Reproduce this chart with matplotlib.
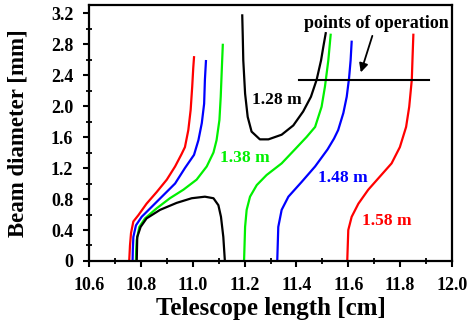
import numpy as np
import matplotlib.pyplot as plt
from matplotlib.ticker import MultipleLocator, FuncFormatter

plt.rcParams['font.family'] = ['Liberation Serif', 'DejaVu Serif']
plt.rcParams['font.weight'] = 'bold'

# telescope length [cm] vs beam diameter [mm]
red_left_x = [10.755, 10.758, 10.762, 10.771, 10.790, 10.822, 10.861, 10.900, 10.932, 10.957,
              10.970, 10.983, 10.992, 10.998, 11.002, 11.005]
red_left_y = [0, 0.20, 0.36, 0.51, 0.59, 0.74, 0.89, 1.05, 1.22, 1.38,
              1.47, 1.69, 1.95, 2.25, 2.49, 2.63]
blue_left_x = [10.768, 10.769, 10.771, 10.781, 10.803, 10.842, 10.887, 10.932, 10.970, 11.005,
               11.022, 11.035, 11.044, 11.047, 11.051]
blue_left_y = [0, 0.15, 0.31, 0.46, 0.57, 0.70, 0.85, 1.00, 1.20, 1.37,
               1.56, 1.78, 2.03, 2.34, 2.58]
green_left_x = [10.781, 10.782, 10.784, 10.794, 10.816, 10.861, 10.912, 10.964, 11.015, 11.054,
                11.080, 11.092, 11.103, 11.108, 11.112, 11.116]
green_left_y = [0, 0.15, 0.27, 0.44, 0.55, 0.68, 0.81, 0.92, 1.05, 1.22,
                1.40, 1.56, 1.82, 2.12, 2.46, 2.79]
black_left_x = [10.784, 10.785, 10.786, 10.799, 10.822, 10.874, 10.938, 10.996, 11.047, 11.080,
                11.099, 11.109, 11.118, 11.124]
black_left_y = [0, 0.15, 0.31, 0.44, 0.55, 0.66, 0.75, 0.81, 0.83, 0.81,
                0.72, 0.57, 0.31, 0]

black_right_x = [11.191, 11.193, 11.195, 11.202, 11.212, 11.227, 11.259, 11.292, 11.343, 11.388,
                 11.426, 11.456, 11.478, 11.495, 11.504, 11.513]
black_right_y = [3.17, 2.90, 2.59, 2.16, 1.86, 1.67, 1.57, 1.57, 1.63, 1.75,
                 1.93, 2.12, 2.34, 2.59, 2.77, 2.94]
green_right_x = [11.198, 11.200, 11.202, 11.208, 11.221, 11.247, 11.285, 11.343, 11.394, 11.439,
                 11.472, 11.497, 11.510, 11.523, 11.532]
green_right_y = [0, 0.22, 0.44, 0.66, 0.83, 0.98, 1.11, 1.26, 1.44, 1.60,
                 1.73, 1.99, 2.25, 2.59, 2.92]
blue_right_x = [11.326, 11.328, 11.330, 11.343, 11.369, 11.420, 11.472, 11.520, 11.545, 11.561,
                11.581, 11.594, 11.603, 11.609, 11.613]
blue_right_y = [0, 0.22, 0.44, 0.66, 0.83, 1.02, 1.22, 1.44, 1.58, 1.69,
                1.91, 2.12, 2.36, 2.59, 2.83]
red_right_x = [11.596, 11.598, 11.600, 11.613, 11.639, 11.677, 11.722, 11.767, 11.799, 11.823,
               11.835, 11.845, 11.848, 11.851]
red_right_y = [0, 0.20, 0.40, 0.57, 0.74, 0.92, 1.09, 1.26, 1.47, 1.73,
               1.99, 2.34, 2.64, 2.92]

labels = ['1.28 m', '1.38 m', '1.48 m', '1.58 m']
label_x = [11.227, 11.105, 11.484, 11.652]
label_y = [2.08, 1.33, 1.07, 0.52]
colors = ['black', '#00f000', '#0000ff', '#ff0000']

op_x = [11.41, 11.91]
op_y = [2.34, 2.34]

fig = plt.figure(figsize=(4.72, 3.26), dpi=100)
ax = fig.add_axes([0.1886, 0.1994, 0.769, 0.785])

lw = 1.6
ax.plot(red_left_x, red_left_y, color=colors[3], lw=lw)
ax.plot(blue_left_x, blue_left_y, color=colors[2], lw=lw)
ax.plot(green_left_x, green_left_y, color=colors[1], lw=lw)
ax.plot(black_left_x, black_left_y, color=colors[0], lw=lw)
ax.plot(black_right_x, black_right_y, color=colors[0], lw=lw)
ax.plot(green_right_x, green_right_y, color=colors[1], lw=lw)
ax.plot(blue_right_x, blue_right_y, color=colors[2], lw=lw)
ax.plot(red_right_x, red_right_y, color=colors[3], lw=lw)

ax.plot(op_x, op_y, color='black', lw=1.5)
ax.annotate('', xy=(11.645, 2.40), xytext=(11.696, 2.94),
            arrowprops=dict(arrowstyle='-|>', color='black', lw=1.3, mutation_scale=13))
ax.text(11.707, 3.07, 'points of operation', ha='center', va='center',
        fontsize=13, fontweight='bold')

for t, x, y, c in zip(labels, label_x, label_y, colors):
    ax.text(x, y, t, color=c, ha='left', va='center', fontsize=12.5, fontweight='bold')

ax.set_xlim(10.6, 12.0)
ax.set_ylim(0, 3.303)
ax.xaxis.set_major_locator(MultipleLocator(0.2))
ax.xaxis.set_minor_locator(MultipleLocator(0.1))
ax.yaxis.set_major_locator(MultipleLocator(0.4))
ax.yaxis.set_minor_locator(MultipleLocator(0.2))
ax.xaxis.set_major_formatter(FuncFormatter(lambda v, p: '%.1f' % v))
ax.yaxis.set_major_formatter(FuncFormatter(lambda v, p: '0' if abs(v) < 1e-9 else '%.1f' % v))

for s in ax.spines.values():
    s.set_linewidth(1.6)
ax.tick_params(which='major', direction='out', length=4.3, width=1.5, labelsize=13)
ax.tick_params(axis='x', which='major', pad=7.5)
ax.tick_params(axis='y', which='major', pad=7)
ax.tick_params(which='minor', direction='inout', length=4, width=1.3)
for lab in ax.get_xticklabels() + ax.get_yticklabels():
    lab.set_fontweight('bold')

ax.set_xlabel('Telescope length [cm]', fontsize=18, fontweight='bold')
ax.set_ylabel('Beam diameter [mm]', fontsize=16.5, fontweight='bold')
ax.xaxis.set_label_coords(0.5, -0.14)
ax.yaxis.set_label_coords(-0.168, 0.5)

fig.savefig('out.png', dpi=100)
